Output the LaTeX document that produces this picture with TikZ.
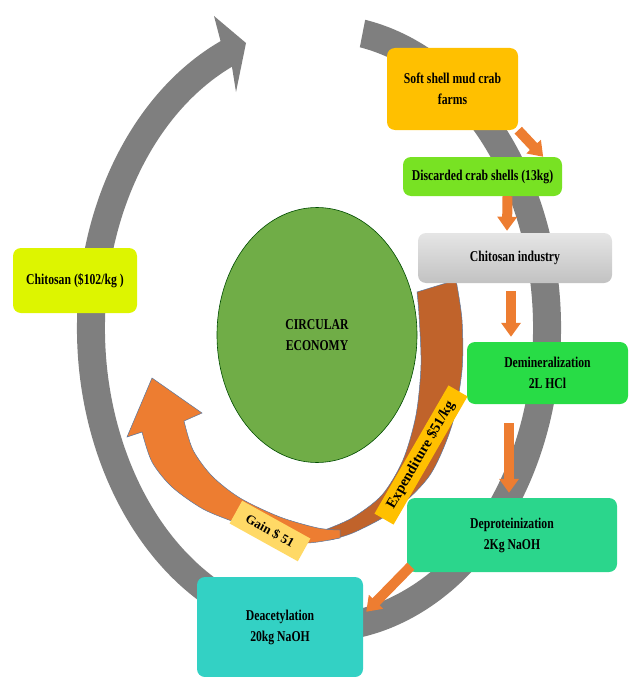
\documentclass[tikz,border=0pt]{standalone}
\usepackage{fontspec}
\setmainfont{Liberation Serif}[FakeStretch=0.78]
\newfontfamily\tagfont{Liberation Serif}
\usetikzlibrary{arrows.meta,calc,shapes.geometric}

\definecolor{ringgray}{RGB}{127,127,127}
\definecolor{flowor}{RGB}{237,125,49}
\definecolor{costbrown}{RGB}{192,99,43}
\definecolor{edgeblue}{RGB}{90,120,160}
\definecolor{farmcol}{RGB}{255,192,0}
\definecolor{shellcol}{RGB}{120,226,35}
\definecolor{demincol}{RGB}{40,220,70}
\definecolor{deprotcol}{RGB}{43,214,140}
\definecolor{deacetcol}{RGB}{51,209,196}
\definecolor{chitcol}{RGB}{221,245,0}
\definecolor{ecocol}{RGB}{112,173,71}
\definecolor{gaincol}{RGB}{255,217,102}

\tikzset{
  stage/.style={rectangle, rounded corners=8pt, inner sep=2pt, align=center,
    font=\fontsize{15}{21}\selectfont\bfseries},
  feed/.style={line width=10pt, draw=flowor,
    -{Triangle[width=19pt,length=14pt]}},
  tag/.style={rectangle, inner sep=1pt}
}

\begin{document}
\begin{tikzpicture}[x=1pt,y=-1pt]
  \useasboundingbox (0,0) rectangle (629,677);

  % big grey cycle
  \coordinate (hub) at (319,328);
  \fill[ringgray] ($(hub)+(-79:242 and 314)$)
    arc[start angle=-79, end angle=246, x radius=242, y radius=314]
    -- (214,16) -- (246,43) -- (236,92)
    -- ($(hub)+(246:214 and 286)$)
    arc[start angle=246, end angle=-79, x radius=214, y radius=286] -- cycle;

  % inner expenditure / gain arrow
  \filldraw[fill=costbrown, draw=edgeblue, line width=0.5pt]
    plot[smooth] coordinates {(456,280) (462,320) (462,370) (452,425) (430,475) (395,510) (355,532) (330,540)}
    -- plot[smooth] coordinates {(322,531) (352,518) (382,495) (403,460) (416,415) (421,365) (419,315) (417,292)}
    -- cycle;
  \filldraw[fill=flowor, draw=edgeblue, line width=0.5pt]
    plot[smooth] coordinates {(340,538) (305,543) (270,535) (237,523) (203,509) (172,487) (152,462) (142,432)}
    -- (127,437) -- (152,378) -- (202,413)
    -- plot[smooth] coordinates {(184,421) (193,450) (212,476) (240,498) (280,517) (318,528) (340,530)}
    -- cycle;

  \node[ellipse, fill=ecocol, draw=black!70!green, line width=0.6pt,
    minimum width=200pt, minimum height=255pt, align=center,
    font=\fontsize{15}{21}\selectfont\bfseries] (economy) at (317,335) {CIRCULAR\\ECONOMY};

  \node[stage, fill=farmcol, minimum width=131pt, minimum height=82pt] (farms) at (452.5,89)
    {Soft shell mud crab\\farms};
  \node[stage, fill=shellcol, minimum width=159pt, minimum height=39pt] (shells) at (482.5,176.5)
    {Discarded crab shells (13kg)};
  \node[stage, top color=black!10, bottom color=black!24, minimum width=194pt, minimum height=50pt] (industry) at (515,258)
    {Chitosan industry};
  \node[stage, fill=demincol, minimum width=161pt, minimum height=62pt] (demin) at (547.5,373)
    {Demineralization\\2L HCl};
  \node[stage, fill=deprotcol, minimum width=210pt, minimum height=74pt] (deprot) at (512,535)
    {Deproteinization\\2Kg NaOH};
  \node[stage, fill=deacetcol, minimum width=166pt, minimum height=100pt] (deacet) at (280,627)
    {Deacetylation\\20kg NaOH};
  \node[stage, fill=chitcol, minimum width=124pt, minimum height=65pt] (chitosan) at (75,280.5)
    {Chitosan (\$102/kg )};

  \draw[feed] (farms.south east) -- ($(shells.north east)+(-19,0)$);
  \draw[feed] ($(shells.south)+(25,0)$) -- ($(industry.north)+(-8,-2)$);
  \draw[feed] ($(industry.south)+(-4,8)$) -- ($(demin.north)+(-36.5,-5)$);
  \draw[feed] ($(demin.south)+(-38.5,19)$) -- ($(deprot.north)+(-3,-5)$);
  \draw[feed] ($(deprot.south west)+(4,-6)$) -- ($(deacet.north east)+(3,35)$);

  \node[tag, fill=farmcol, rotate=60, minimum width=148pt, minimum height=22pt,
    font=\tagfont\fontsize{14.5}{16}\selectfont\bfseries] (expend) at (421,455) {Expenditure \$51/kg};
  \node[tag, fill=gaincol, rotate=-29, minimum width=78pt, minimum height=26pt,
    font=\tagfont\fontsize{13}{15}\selectfont\bfseries] (gain) at (270,531) {Gain \$ 51};
\end{tikzpicture}
\end{document}
